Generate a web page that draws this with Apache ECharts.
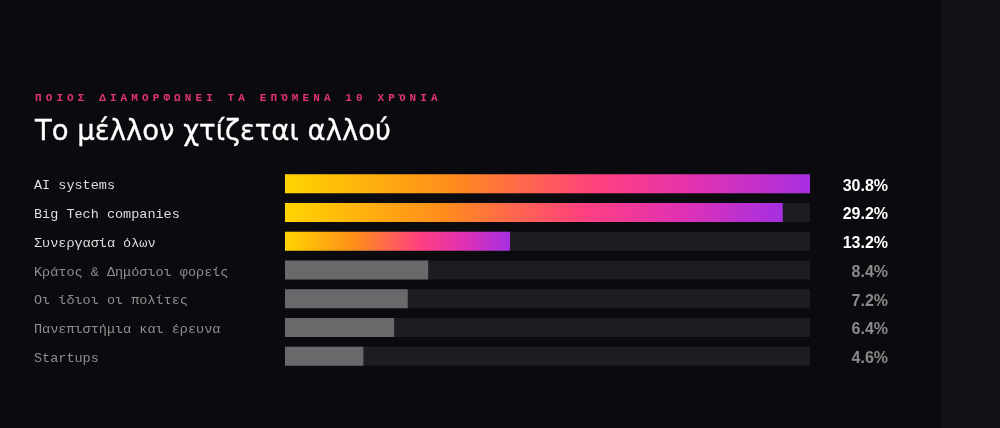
<!DOCTYPE html>
<html>
<head>
<meta charset="utf-8">
<script src="https://cdn.jsdelivr.net/npm/echarts@6/dist/echarts.min.js"></script>
<style>
  html, body { margin: 0; padding: 0; }
  body {
    width: 1000px; height: 428px; overflow: hidden; position: relative;
    background: linear-gradient(to right, #0b0b0f 941px, #111217 941px);
  }
  #main { position: absolute; left: 0; top: 0; width: 1000px; height: 428px; }
  .kicker {
    position: absolute; left: 35px; top: 91px;
    font: bold 11px/14px "Liberation Mono", monospace;
    letter-spacing: 4.1px; color: #e2337a; white-space: nowrap;
  }
  .title {
    position: absolute; left: 35px; top: 114px;
    font: 27.5px/32px "DejaVu Sans", sans-serif;
    -webkit-text-stroke: 0.3px #ffffff;
    color: #ffffff; white-space: nowrap;
  }
</style>
</head>
<body>
<div id="main"></div>
<div class="kicker">ΠΟΙΟΣ ΔΙΑΜΟΡΦΩΝΕΙ ΤΑ ΕΠΌΜΕΝΑ 10 ΧΡΌΝΙΑ</div>
<div class="title">Το μέλλον χτίζεται αλλού</div>
<script>
const categories = [
  "AI systems",
  "Big Tech companies",
  "Συνεργασία όλων",
  "Κράτος & Δημόσιοι φορείς",
  "Οι ίδιοι οι πολίτες",
  "Πανεπιστήμια και έρευνα",
  "Startups"
];
const values = [30.8, 29.2, 13.2, 8.4, 7.2, 6.4, 4.6];
const highlighted = [true, true, true, false, false, false, false];

const gradient = () => new echarts.graphic.LinearGradient(0, 0, 1, 0, [
  { offset: 0, color: '#ffd400' },
  { offset: 0.32, color: '#ff8c1c' },
  { offset: 0.6, color: '#ff4080' },
  { offset: 0.78, color: '#e332b0' },
  { offset: 1, color: '#a62fe2' }
]);

const myChart = echarts.init(document.getElementById('main'));

const option = {
  backgroundColor: 'transparent',
  animation: false,
  grid: { left: 285, right: 190, top: 169.5, height: 201 },
  xAxis: {
    type: 'value',
    min: 0,
    max: Math.max(...values),
    show: false
  },
  yAxis: [
    {
      type: 'category',
      data: categories,
      inverse: true,
      axisLine: { show: false },
      axisTick: { show: false },
      axisLabel: {
        align: 'left',
        margin: 251,
        fontFamily: '"Liberation Mono", monospace',
        fontSize: 13.5,
        formatter: v => '{l|' + v + '}',
        rich: { l: { padding: [4, 0, 0, 0] } },
        color: (v, i) => highlighted[i] ? '#dedede' : '#8e8e8e'
      }
    },
    {
      type: 'category',
      data: categories,
      inverse: true,
      position: 'right',
      axisLine: { show: false },
      axisTick: { show: false },
      axisLabel: {
        align: 'right',
        margin: 78,
        fontFamily: '"Liberation Sans", Arial, sans-serif',
        fontWeight: 'bold',
        fontSize: 16,
        formatter: (v, i) => '{v|' + values[i].toFixed(1) + '%}',
        rich: { v: { padding: [5, 0, 0, 0] } },
        color: (v, i) => highlighted[i] ? '#ffffff' : '#8a8a8a'
      }
    }
  ],
  series: [
    {
      type: 'bar',
      barWidth: 19,
      showBackground: true,
      backgroundStyle: { color: '#1c1c21' },
      data: values.map((v, i) => ({
        value: v,
        itemStyle: { color: highlighted[i] ? gradient() : '#69696c' }
      }))
    }
  ]
};

myChart.setOption(option);
</script>
</body>
</html>
